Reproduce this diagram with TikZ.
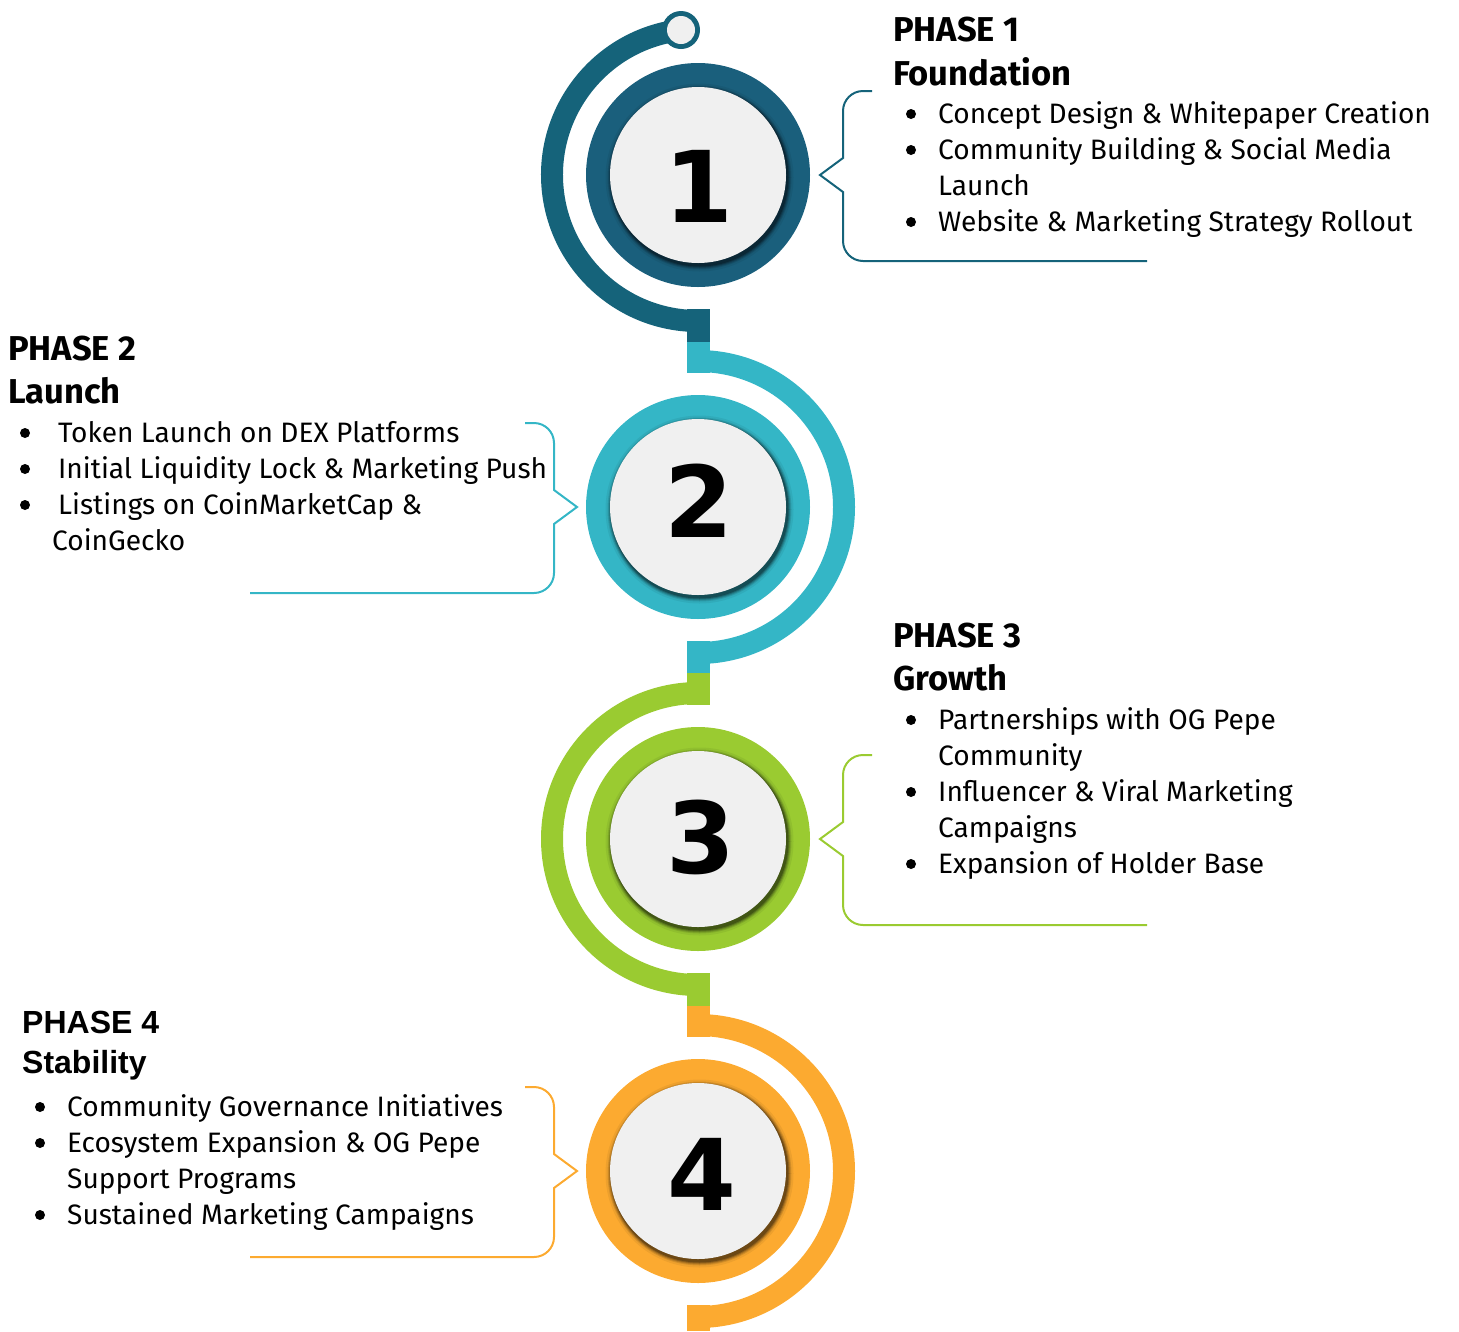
\documentclass[tikz,border=0pt]{standalone}
\usepackage{fontspec}
\setmainfont{Fira Sans}
\newfontfamily\numfont{DejaVu Sans}
\newfontfamily\arialfont{Liberation Sans}
\definecolor{phaseA}{HTML}{15637A}
\definecolor{ringA}{HTML}{1A5F7C}
\definecolor{phaseB}{HTML}{34B6C6}
\definecolor{phaseC}{HTML}{9ACB31}
\definecolor{phaseD}{HTML}{FCAA30}
\definecolor{disk}{HTML}{F0F0F0}
\tikzset{
  band/.style={line width=22pt, line cap=butt},
  callout/.style={line width=2pt},
  head/.style={anchor=base west, inner sep=0pt, font=\fontsize{34.5}{40}\selectfont\bfseries},
  head4/.style={anchor=base west, inner sep=0pt, font=\arialfont\fontsize{32}{38}\selectfont\bfseries},
  item/.style={anchor=base west, inner sep=0pt, font=\fontsize{28.1}{36}\selectfont},
  num/.style={anchor=base, inner sep=0pt, font=\numfont\fontsize{99}{110}\selectfont\bfseries}
}

\begin{document}
\begin{tikzpicture}[x=1pt, y=1pt]
    \useasboundingbox (0,0) rectangle (1459,-1331);
    \coordinate (C1) at (698,-175);
    \coordinate (C2) at (698,-507);
    \coordinate (C3) at (698,-839);
    \coordinate (C4) at (698,-1171);
    % bands round the circles
    \draw[band, phaseA] (C1) ++(97:146pt) arc[start angle=97, end angle=270, radius=146pt];
    \fill[phaseA] (687,-309) rectangle (710,-342);
    \fill[phaseB] (687,-342) rectangle (710,-373);
    \draw[band, phaseB] (C2) ++(90:146pt) arc[start angle=90, end angle=-90, radius=146pt];
    \fill[phaseB] (687,-641) rectangle (710,-673);
    \fill[phaseC] (687,-673) rectangle (710,-705);
    \draw[band, phaseC] (C3) ++(90:146pt) arc[start angle=90, end angle=270, radius=146pt];
    \fill[phaseC] (687,-973) rectangle (710,-1006);
    \fill[phaseD] (687,-1006) rectangle (710,-1037);
    \draw[band, phaseD] (C4) ++(90:146pt) arc[start angle=90, end angle=-90, radius=146pt];
    \fill[phaseD] (687,-1305) rectangle (710,-1331);
    \coordinate (S) at (681,-30);
    \fill[phaseA] (S) circle (19pt);
    \fill[disk] (S) circle (14pt);
    % rings
    \foreach \c/\col in {C1/ringA, C2/phaseB, C3/phaseC, C4/phaseD} {
        \fill[\col] (\c) circle (112pt);
        \foreach \r/\o in {94/0.06, 92/0.1, 91/0.14, 90/0.2, 89/0.25}
        \fill[black, opacity=\o] ([shift={(1.5,-2.5)}]\c) circle (\r pt);
        \fill[disk] (\c) circle (88pt);
    }
    \node[num] (n1) at (699,-222) {1};
    \node[num] (n2) at (699,-537) {2};
    \node[num] (n3) at (701,-873) {3};
    \node[num] (n4) at (702,-1210) {4};
    % callouts
    \draw[callout, phaseA] (872,-91) -- (863,-91) arc[start angle=90, end angle=180, radius=20pt] -- (843,-158) -- (820,-175) -- (843,-192) -- (843,-241) arc[start angle=180, end angle=270, radius=20pt] -- (1147,-261);
    \draw[callout, phaseB] (525,-423) -- (534,-423) arc[start angle=90, end angle=0, radius=20pt] -- (554,-490) -- (577,-507) -- (554,-524) -- (554,-573) arc[start angle=0, end angle=-90, radius=20pt] -- (250,-593);
    \draw[callout, phaseC] (872,-755) -- (863,-755) arc[start angle=90, end angle=180, radius=20pt] -- (843,-822) -- (820,-839) -- (843,-856) -- (843,-905) arc[start angle=180, end angle=270, radius=20pt] -- (1147,-925);
    \draw[callout, phaseD] (525,-1087) -- (534,-1087) arc[start angle=90, end angle=0, radius=20pt] -- (554,-1154) -- (577,-1171) -- (554,-1188) -- (554,-1237) arc[start angle=0, end angle=-90, radius=20pt] -- (250,-1257);
    % phase 1
    \node[head] (h1a) at (893,-41) {PHASE 1};
    \node[head] (h1b) at (893,-85) {Foundation};
    \node[item] (t1a) at (938,-123) {Concept Design \& Whitepaper Creation};
    \node[item] (t1b) at (938,-159) {Community Building \& Social Media};
    \node[item] (t1c) at (938,-195) {Launch};
    \node[item] (t1d) at (938,-231) {Website \& Marketing Strategy Rollout};
    \foreach \y in {-114,-150,-222}
    \fill (911,\y) circle (5pt);
    % phase 2
    \node[head] (h2a) at (8,-360) {PHASE 2};
    \node[head] (h2b) at (8,-403) {Launch};
    \node[item] (t2a) at (58,-442) {Token Launch on DEX Platforms};
    \node[item] (t2b) at (58,-478) {Initial Liquidity Lock \& Marketing Push};
    \node[item] (t2c) at (58,-514) {Listings on CoinMarketCap \&};
    \node[item] (t2d) at (52,-550) {CoinGecko};
    \foreach \y in {-433,-469,-505}
    \fill (25,\y) circle (5pt);
    % phase 3
    \node[head] (h3a) at (893,-647) {PHASE 3};
    \node[head] (h3b) at (893,-690) {Growth};
    \node[item] (t3a) at (938,-729) {Partnerships with OG Pepe};
    \node[item] (t3b) at (938,-765) {Community};
    \node[item] (t3c) at (938,-801) {Influencer \& Viral Marketing};
    \node[item] (t3d) at (938,-837) {Campaigns};
    \node[item] (t3e) at (938,-873) {Expansion of Holder Base};
    \foreach \y in {-720,-792,-864}
    \fill (911,\y) circle (5pt);
    % phase 4
    \node[head4] (h4a) at (22,-1033) {PHASE 4};
    \node[head4] (h4b) at (22,-1073) {Stability};
    \node[item] (t4a) at (67,-1116) {Community Governance Initiatives};
    \node[item] (t4b) at (67,-1152) {Ecosystem Expansion \& OG Pepe};
    \node[item] (t4c) at (67,-1188) {Support Programs};
    \node[item] (t4d) at (67,-1224) {Sustained Marketing Campaigns};
    \foreach \y in {-1107,-1143,-1215}
    \fill (40,\y) circle (5pt);
\end{tikzpicture}
\end{document}
